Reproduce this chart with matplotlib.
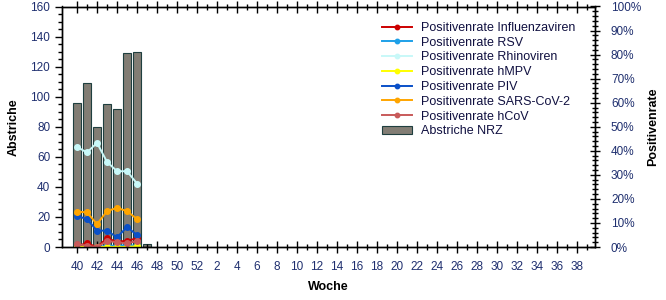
import matplotlib
matplotlib.use("Agg")
import matplotlib.pyplot as plt
from matplotlib.ticker import MultipleLocator, FixedLocator, PercentFormatter
import numpy as np

plt.rcParams['font.family'] = ['Liberation Sans', 'DejaVu Sans']

weeks = list(range(40, 53)) + list(range(1, 40))
abstriche = [96, 109, 80, 95, 92, 129, 130, 2]

influenza = [0.5, 1.5, 0.0, 3.6, 2.2, 2.6, 3.6]
rsv = [0.0, 0.0, 0.0, 0.5, 0.5, 0.8, 0.5]
rhino = [41.6, 39.3, 43.3, 35.4, 31.5, 31.5, 26.4]
hmpv = [0.0, 0.0, 0.0, 0.0, 0.0, 0.0, 0.3]
piv = [12.9, 11.6, 6.8, 6.8, 4.0, 8.3, 5.0]
sars = [14.7, 14.4, 9.5, 14.9, 16.3, 14.9, 11.6]
hcov = [1.2, 0.5, 0.0, 2.5, 2.0, 1.5, 2.5]

series = [
    ("Positivenrate Influenzaviren", influenza, "#cc0000"),
    ("Positivenrate RSV", rsv, "#1ea0e8"),
    ("Positivenrate Rhinoviren", rhino, "#c8f8f8"),
    ("Positivenrate hMPV", hmpv, "#ffff00"),
    ("Positivenrate PIV", piv, "#0a50c8"),
    ("Positivenrate SARS-CoV-2", sars, "#ffa500"),
    ("Positivenrate hCoV", hcov, "#c85a5a"),
]

tickcol = "#1f2f6f"
fs = 8.5

fig = plt.figure(figsize=(6.66, 3.0), dpi=100)
ax = fig.add_axes([62/666, 53/300, (595-62)/666, (247-6.5)/300])
ax2 = ax.twinx()

x_all = np.arange(len(weeks))
bars = ax.bar(x_all[:len(abstriche)], abstriche, width=0.8, color="#827d74",
              edgecolor="#1f3f3f", linewidth=0.8, label="Abstriche NRZ")

lines = []
for name, vals, col in series:
    l, = ax2.plot(x_all[:len(vals)], vals, color=col, lw=1.4, marker="o",
                  markersize=4, label=name)
    lines.append(l)

ax.set_xlim(-1.5, 51.8)
ax.set_ylim(0, 160)
ax2.set_ylim(0, 100)

ax.xaxis.set_major_locator(FixedLocator([i for i, w in enumerate(weeks) if w % 2 == 0]))
ax.set_xticklabels([str(w) for w in weeks if w % 2 == 0])
ax.xaxis.set_minor_locator(FixedLocator([i for i, w in enumerate(weeks) if w % 2 == 1]))
ax.tick_params(axis='x', which='major', direction='inout', length=8, width=1,
               labelsize=fs, labelcolor=tickcol, pad=6, top=True)
ax.tick_params(axis='x', which='minor', direction='inout', length=5, width=1, top=True)

ax.yaxis.set_major_locator(MultipleLocator(20))
ax.yaxis.set_minor_locator(MultipleLocator(5))
ax.tick_params(axis='y', which='major', direction='out', length=5, width=1,
               labelsize=fs, labelcolor=tickcol)
ax.tick_params(axis='y', which='minor', direction='out', length=3, width=1)

ax2.yaxis.set_major_locator(MultipleLocator(10))
ax2.yaxis.set_minor_locator(MultipleLocator(2))
ax2.yaxis.set_major_formatter(PercentFormatter(decimals=0))
ax2.tick_params(axis='y', which='major', direction='inout', length=7, width=1,
                labelsize=fs, labelcolor=tickcol, pad=8)
ax2.tick_params(axis='y', which='minor', direction='inout', length=4, width=1)

for a in (ax, ax2):
    for s in a.spines.values():
        s.set_linewidth(1)
        s.set_color("black")

ax.set_xlabel("Woche", fontsize=9, fontweight="bold", labelpad=6)
ax.set_ylabel("Abstriche", fontsize=9, fontweight="bold", labelpad=8)
ax2.set_ylabel("Positivenrate", fontsize=9, fontweight="bold", labelpad=4)

handles = lines + [bars]
leg = ax2.legend(handles=handles, labels=[h.get_label() for h in handles],
                 loc="upper left", bbox_to_anchor=(377/666, 1 - 17/300),
                 bbox_transform=fig.transFigure, frameon=False, fontsize=9,
                 handlelength=2.4, handletextpad=0.7, labelspacing=0.22,
                 borderaxespad=0, markerscale=0.8)
for t in leg.get_texts():
    t.set_color("#101040")

fig.savefig("out.png", dpi=100)
